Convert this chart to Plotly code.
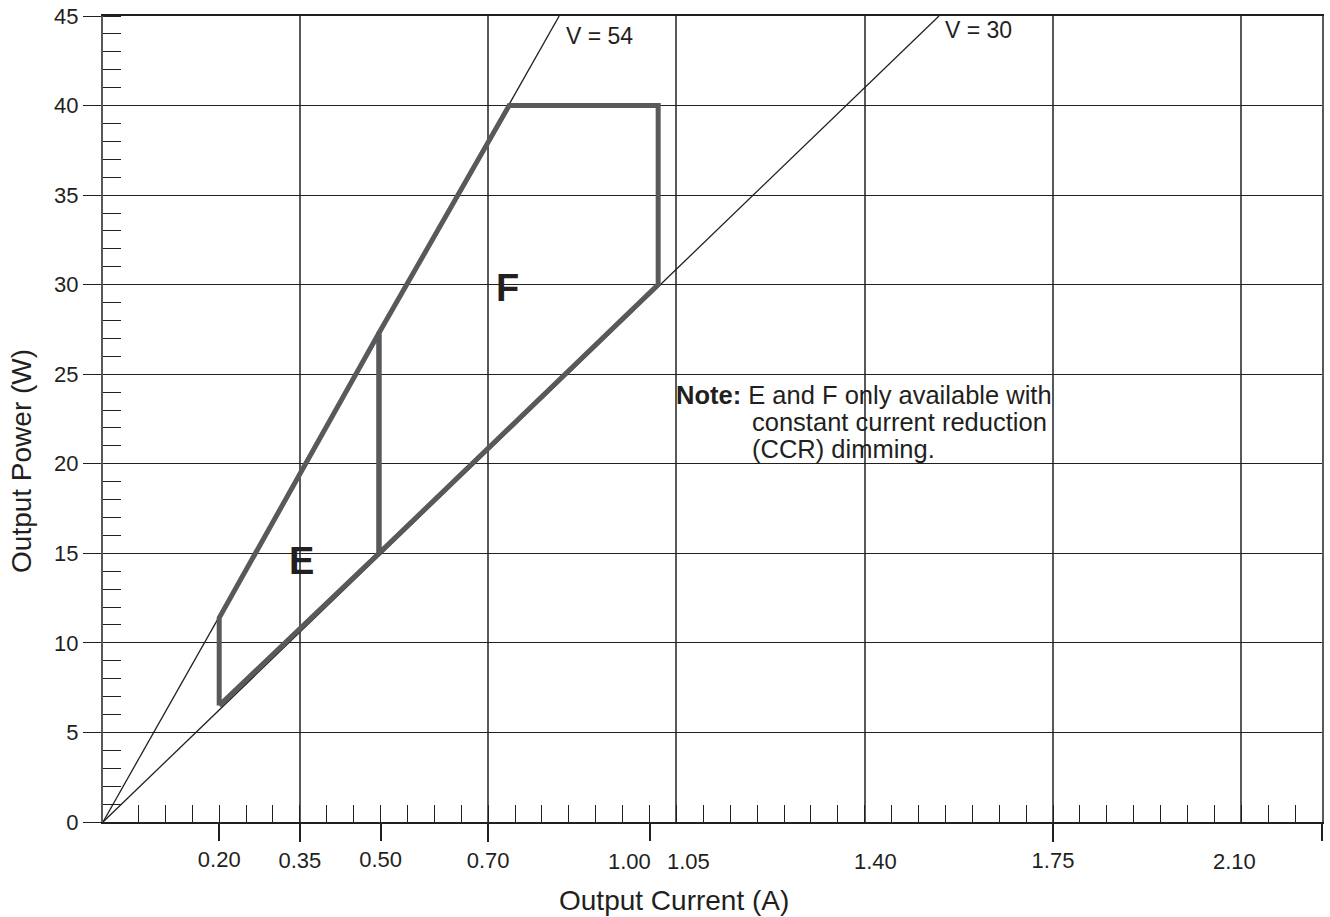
import numpy as np
import plotly.graph_objects as go

# ---------------- data ----------------
# thin constant-voltage reference lines
V54_CURRENT = [-0.016, 0.832]
V54_POWER = [0.0, 45.0]
V30_CURRENT = [-0.016, 1.538]
V30_POWER = [0.0, 45.0]

# operating region E (closed outline)
E_CURRENT = [0.200, 0.200, 0.497, 0.497, 0.200]
E_POWER = [6.5, 11.4, 27.3, 15.0, 6.5]

# operating region F (closed outline)
F_CURRENT = [0.497, 0.497, 0.739, 1.016, 1.016, 0.497]
F_POWER = [15.0, 27.3, 40.0, 40.0, 30.0, 15.0]

# axis ticks
X_GRID_TICKS = [0.35, 0.70, 1.05, 1.40, 1.75, 2.10]
X_GRID_LABELS = ["0.35", "0.70", "", "", "1.75", ""]
X_EXTRA_TICKS = [0.20, 0.50, 1.00, 2.25]
X_EXTRA_LABELS = ["0.20", "0.50", "", ""]
# labels printed slightly off their ticks in the original
X_SHIFTED_TICKS = [1.00, 1.05, 1.40, 2.10]
X_SHIFTED_LABELS = ["1.00", "1.05", "1.40", "2.10"]
Y_TICKS = [0, 5, 10, 15, 20, 25, 30, 35, 40, 45]
Y_LABELS = [str(v) for v in Y_TICKS]

NOTE_LINES = ["<b>Note:</b> E and F only available with",
              "constant current reduction",
              "(CCR) dimming."]

# ---------------- styles ----------------
INK = "#231f20"
GREY = "#58595b"
FONT = "Liberation Sans, Arial, Helvetica, sans-serif"
X_RANGE = [-0.016, 2.25]
Y_RANGE = [0, 45]
MINOR_X = [round(v, 2) for v in np.arange(0.05, 2.2001, 0.05)]
LABEL_SHIFT_PX = [-20, 12, 11, -7]

fig = go.Figure()

fig.add_trace(go.Scatter(x=V54_CURRENT, y=V54_POWER, mode="lines",
                         line=dict(color=INK, width=1.3), hoverinfo="skip"))
fig.add_trace(go.Scatter(x=V30_CURRENT, y=V30_POWER, mode="lines",
                         line=dict(color=INK, width=1.3), hoverinfo="skip"))
fig.add_trace(go.Scatter(x=E_CURRENT, y=E_POWER, mode="lines", name="E",
                         line=dict(color=GREY, width=5)))
fig.add_trace(go.Scatter(x=F_CURRENT, y=F_POWER, mode="lines", name="F",
                         line=dict(color=GREY, width=5)))
# helper trace so the secondary tick axis is drawn
fig.add_trace(go.Scatter(x=[None], y=[None], xaxis="x2", mode="lines",
                         hoverinfo="skip"))

tickfont = dict(family=FONT, size=22, color=INK)

fig.update_layout(
    template="none",
    width=1330, height=917,
    margin=dict(l=103, r=8, t=16, b=95, autoexpand=False),
    paper_bgcolor="white", plot_bgcolor="white",
    showlegend=False,
    font=dict(family=FONT, color=INK),
    xaxis=dict(
        range=X_RANGE, tickmode="array", tickvals=X_GRID_TICKS, ticktext=X_GRID_LABELS,
        ticks="outside", ticklen=18, tickwidth=1.5, tickcolor=INK,
        showgrid=True, gridcolor=GREY, gridwidth=1.5,
        showline=True, linecolor=INK, linewidth=1.5, mirror=True,
        zeroline=False, tickfont=tickfont, automargin=False,
        minor=dict(tickmode="array", tickvals=MINOR_X, ticks="inside",
                   ticklen=17, tickwidth=1.3, tickcolor=INK, showgrid=False),
    ),
    xaxis2=dict(
        overlaying="x", matches="x", anchor="y", side="bottom",
        tickmode="array", tickvals=X_EXTRA_TICKS, ticktext=X_EXTRA_LABELS,
        ticks="outside", ticklen=18, tickwidth=1.5, tickcolor=INK,
        showgrid=False, showline=False, zeroline=False, tickfont=tickfont,
        automargin=False,
    ),
    yaxis=dict(
        range=Y_RANGE, tickmode="array", tickvals=Y_TICKS, ticktext=Y_LABELS,
        ticks="outside", ticklen=18, tickwidth=1.3, tickcolor=INK,
        showgrid=True, gridcolor=INK, gridwidth=1.2,
        showline=True, linecolor=GREY, linewidth=2, mirror=True,
        zeroline=False, tickfont=tickfont, automargin=False,
        minor=dict(dtick=1, tick0=0, ticks="inside", ticklen=18,
                   tickwidth=1.3, tickcolor=INK, showgrid=False),
    ),
)

ann = []
for lab, xv, sh in zip(X_SHIFTED_LABELS, X_SHIFTED_TICKS, LABEL_SHIFT_PX):
    ann.append(dict(x=xv, y=-0.0484, xref="x", yref="paper", text=lab,
                    showarrow=False, xanchor="center", yanchor="middle",
                    xshift=sh, font=tickfont))
# axis titles
ann.append(dict(x=0.4684, y=-0.0968, xref="paper", yref="paper",
                text="Output Current (A)", showarrow=False,
                xanchor="center", yanchor="middle",
                font=dict(family=FONT, size=28, color=INK)))
ann.append(dict(x=-0.0664, y=0.448, xref="paper", yref="paper",
                text="Output Power (W)", showarrow=False, textangle=-90,
                xanchor="center", yanchor="middle",
                font=dict(family=FONT, size=28, color=INK)))
# line labels
ann.append(dict(x=0.8406, y=43.9, xref="x", yref="y", text="V = 54",
                showarrow=False, xanchor="left", yanchor="middle",
                font=dict(family=FONT, size=23, color=INK)))
ann.append(dict(x=1.545, y=44.24, xref="x", yref="y", text="V = 30",
                showarrow=False, xanchor="left", yanchor="middle",
                font=dict(family=FONT, size=23, color=INK)))
# region labels
ann.append(dict(x=0.7356, y=29.83, xref="x", yref="y", text="<b>F</b>",
                showarrow=False, xanchor="center", yanchor="middle",
                font=dict(family=FONT, size=38, color=INK)))
ann.append(dict(x=0.3538, y=14.59, xref="x", yref="y", text="<b>E</b>",
                showarrow=False, xanchor="center", yanchor="middle",
                font=dict(family=FONT, size=38, color=INK)))
# note
note_x = [1.046, 1.187, 1.187]
note_y = [23.85, 22.36, 20.85]
for txt, nx, ny in zip(NOTE_LINES, note_x, note_y):
    ann.append(dict(x=nx, y=ny, xref="x", yref="y", text=txt, showarrow=False,
                    xanchor="left", yanchor="middle",
                    font=dict(family=FONT, size=25.5, color=INK)))

fig.update_layout(annotations=ann)
fig.write_html(
    "out.html",
    config={"displayModeBar": False},
    post_script="document.body.style.margin='0px';document.body.style.overflow='hidden';",
)
